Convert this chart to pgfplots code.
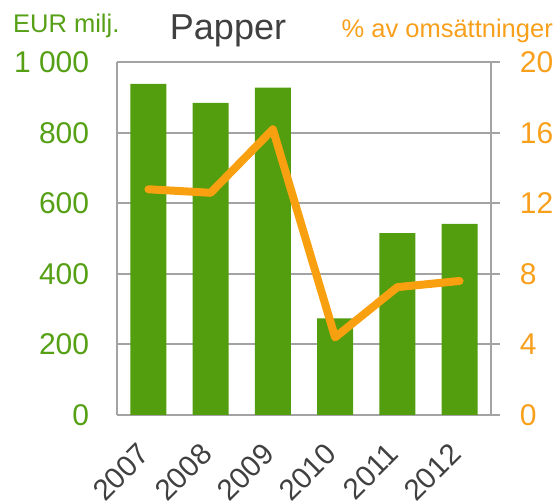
\documentclass[border=0pt]{standalone}
\usepackage{fontspec}
\setmainfont{Liberation Sans}
\usepackage{pgfplots}
\pgfplotsset{compat=1.18}

\definecolor{bargreen}{HTML}{529E0E}
\definecolor{txtgreen}{HTML}{56A016}
\definecolor{lineorange}{HTML}{F9A010}
\definecolor{txtorange}{HTML}{F8A01C}
\definecolor{gridgray}{HTML}{A3A3A3}
\definecolor{labelgray}{HTML}{404040}

\begin{document}
\begin{tikzpicture}
\useasboundingbox (0,0) rectangle (558pt,504pt);

% Papper: EUR milj. (bars)
\begin{axis}[
    scale only axis,
    width=373.4pt, height=352.7pt,
    anchor=south west, at={(117.3pt,89pt)},
    xmin=-0.5, xmax=5.5,
    ymin=0, ymax=1000,
    xtick={0,1,2,3,4,5},
    xticklabels={2007,2008,2009,2010,2011,2012},
    ytick={0,200,400,600,800,1000},
    yticklabels={0,200,400,600,800,1 000},
    major tick length=0pt,
    ymajorgrids=true,
    grid style={gridgray, line width=2pt},
    axis line style={gridgray, line width=2pt},
    axis y line*=left,
    yticklabel style={font=\fontsize{30}{36}\selectfont, text=txtgreen, anchor=east, inner sep=0pt, xshift=-28pt},
    xticklabel style={font=\fontsize{29.5}{36}\selectfont, text=labelgray, anchor=east, inner sep=0pt, xshift=-4pt, yshift=-34pt, rotate=45},
]
\addplot[ybar, bar width=36pt, fill=bargreen, draw=none] coordinates {
    (0,939) (1,885) (2,928) (3,274) (4,516) (5,542)
};
\end{axis}

% % av omsättningen (line)
\begin{axis}[
    scale only axis,
    width=373.4pt, height=352.7pt,
    anchor=south west, at={(117.3pt,89pt)},
    xmin=-0.5, xmax=5.5,
    ymin=0, ymax=20,
    axis x line=none,
    axis y line*=right,
    ytick={0,4,8,12,16,20},
    yticklabels={0,4,8,12,16,20},
    tick align=outside,
    major tick length=9pt,
    tick style={gridgray, line width=2pt},
    axis line style={gridgray, line width=2pt},
    yticklabel style={font=\fontsize{30}{36}\selectfont, text=txtorange, anchor=west, inner sep=0pt, xshift=20pt},
]
\addplot[lineorange, line width=8pt, line cap=round, line join=round, mark=none] coordinates {
    (0,12.8) (1,12.6) (2,16.2) (3,4.4) (4,7.25) (5,7.6)
};
\end{axis}

% top frame line
\draw[gridgray, line width=2pt] (117.3pt,441.7pt) -- (490.7pt,441.7pt);

\node[anchor=base west, inner sep=0pt, text=txtgreen, font=\fontsize{25.5}{30}\selectfont] at (13pt,471.3pt) {EUR milj.};
\node[anchor=base, inner sep=0pt, text=labelgray, font=\fontsize{36}{42}\selectfont] at (228pt,464.7pt) {Papper};
\node[anchor=base east, inner sep=0pt, text=txtorange, font=\fontsize{25.5}{30}\selectfont] at (553pt,466.7pt) {\% av omsättninger};
\end{tikzpicture}
\end{document}
